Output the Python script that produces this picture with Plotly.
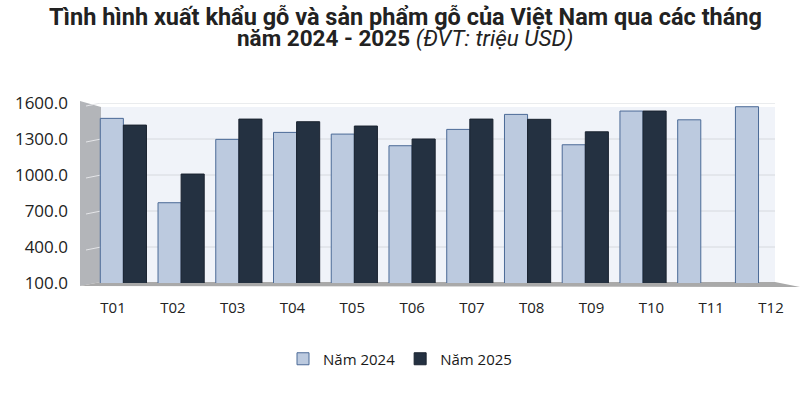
import plotly.graph_objects as go

months = ["T01", "T02", "T03", "T04", "T05", "T06", "T07", "T08", "T09", "T10", "T11", "T12"]
v2024 = [1472, 769, 1297, 1355, 1341, 1244, 1380, 1505, 1252, 1533, 1460, 1569]
v2025 = [1416, 1008, 1466, 1444, 1408, 1300, 1466, 1464, 1360, 1533, None, None]
yticks = [100, 400, 700, 1000, 1300, 1600]

title_line1 = "Tình hình xuất khẩu gỗ và sản phẩm gỗ của Việt Nam qua các tháng"
title_line2_bold = "năm 2024 - 2025"
title_line2_unit = "(ĐVT: triệu USD)"

# the page body margin is removed below, so the figure sits at the window origin
OFF = 0
W, H = 810, 393
# desired plot area in window pixels: x 80..802, y 103..283
L = 80 - OFF
R = W - (802 - OFF)
T = 103 - OFF
B = H - (283 - OFF)
pw = W - L - R
ph = H - T - B

def px(x):
    return (x - OFF - L) / pw

def py(y):
    return (H - B - (y - OFF)) / ph

fig = go.Figure()
fig.add_trace(go.Bar(
    x=months, y=v2024, name="Năm 2024",
    marker=dict(color="#bccadf", line=dict(color="#4b6a97", width=1)),
    hoverinfo="x+y",
))
fig.add_trace(go.Bar(
    x=months, y=v2025, name="Năm 2025",
    marker=dict(color="#243141", line=dict(color="#1a2330", width=1)),
    hoverinfo="x+y",
))
# helper trace for the month label axis
fig.add_trace(go.Scatter(
    x=list(range(len(months))), y=[None] * len(months), xaxis="x2",
    mode="markers", marker=dict(opacity=0), showlegend=False, hoverinfo="skip",
))

shapes = []
# back wall
shapes.append(dict(type="rect", xref="paper", yref="paper",
                   x0=px(101), x1=px(775), y0=py(282), y1=py(107),
                   fillcolor="#f0f3f9", line=dict(width=0), layer="below"))
# left wall
shapes.append(dict(type="path", xref="paper", yref="paper",
                   path=f"M {px(80)} {py(101)} L {px(101)} {py(107)} L {px(101)} {py(282)} L {px(80)} {py(286)} Z",
                   fillcolor="#b3b5b9", line=dict(width=0), layer="below"))
# floor
shapes.append(dict(type="path", xref="paper", yref="paper",
                   path=f"M {px(80)} {py(286)} L {px(101)} {py(282)} L {px(775)} {py(282)} L {px(800)} {py(287)} Z",
                   fillcolor="#a9a9a9", line=dict(width=0), layer="below"))
# gridlines
for v in yticks[1:]:
    shapes.append(dict(type="line", xref="paper", yref="y",
                       x0=px(101), x1=px(775), y0=v, y1=v,
                       line=dict(color="#d6d9de", width=1), layer="below"))
    shapes.append(dict(type="line", xref="paper", yref="y",
                       x0=px(86), x1=px(101), y0=v - 25, y1=v,
                       line=dict(color="#e4e5e8", width=1), layer="below"))

title_font = "Roboto, 'Liberation Sans', sans-serif"
annotations = [
    dict(text=f"<b>{title_line1}</b>", xref="paper", yref="paper",
         x=px(405), y=py(17),
         xanchor="center", yanchor="middle", showarrow=False,
         font=dict(family=title_font, size=23.5, color="#222222")),
    dict(text=f"<b>{title_line2_bold}</b> <i>{title_line2_unit}</i>",
         xref="paper", yref="paper",
         x=px(405), y=py(39),
         xanchor="center", yanchor="middle", showarrow=False,
         font=dict(family=title_font, size=22.5, color="#222222")),
]

fig.update_layout(
    width=W, height=H,
    margin=dict(l=L, r=R, t=T, b=B, autoexpand=False),
    paper_bgcolor="white", plot_bgcolor="rgba(0,0,0,0)",
    barmode="group", bargap=0.2, bargroupgap=0.0,
    xaxis=dict(
        type="category", domain=[px(94.5), px(787.4)],
        showticklabels=False, showgrid=False, zeroline=False, showline=False, ticks="",
        automargin=False,
    ),
    xaxis2=dict(
        type="linear", domain=[px(83.1), px(800.9)], anchor="y",
        range=[-0.5, len(months) - 0.5],
        tickmode="array", tickvals=list(range(len(months))), ticktext=months,
        showgrid=False, zeroline=False, showline=False, ticks="",
        ticklabelstandoff=14, automargin=False,
        tickfont=dict(family="Open Sans, sans-serif", size=15, color="#222222"),
    ),
    yaxis=dict(
        range=[100, 1600], tickmode="array", tickvals=yticks, tickformat=".1f",
        showgrid=False, zeroline=False, showline=False, ticks="",
        anchor="free", position=0, ticklabelstandoff=12, automargin=False,
        tickfont=dict(family="Open Sans, sans-serif", size=17, color="#222222"),
    ),
    legend=dict(
        orientation="h", x=px(400), xanchor="center", y=py(359), yanchor="middle",
        font=dict(family="Open Sans, sans-serif", size=15, color="#1a1a1a"),
        itemwidth=30, traceorder="normal",
    ),
    shapes=shapes,
    annotations=annotations,
    showlegend=True,
)

fig.write_html("out.html", config={"displayModeBar": False},
               post_script="document.body.style.margin='0';")
